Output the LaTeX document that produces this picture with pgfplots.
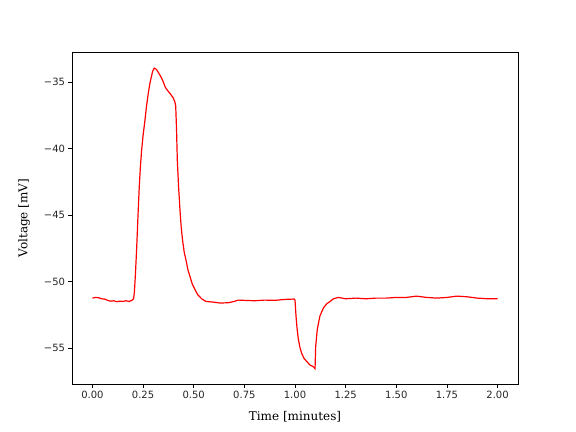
\documentclass[border=0pt]{standalone}
\usepackage{fontspec}
\setmainfont{DejaVu Sans}
\newfontfamily\labelfont{DejaVu Serif}
\usepackage{pgfplots}
\pgfplotsset{compat=1.18}

\pgfplotstableread{
t V
0.000 -51.25
0.015 -51.20
0.030 -51.22
0.045 -51.30
0.060 -51.32
0.075 -51.42
0.090 -51.48
0.105 -51.45
0.120 -51.52
0.135 -51.48
0.150 -51.50
0.165 -51.45
0.180 -51.50
0.195 -51.42
0.203 -51.30
0.207 -50.80
0.212 -49.50
0.218 -47.60
0.225 -45.00
0.231 -42.90
0.237 -41.30
0.243 -40.10
0.250 -39.00
0.259 -37.90
0.267 -36.80
0.276 -35.80
0.285 -35.00
0.297 -34.20
0.305 -33.95
0.312 -34.00
0.318 -34.10
0.326 -34.30
0.334 -34.50
0.341 -34.70
0.350 -35.00
0.360 -35.40
0.374 -35.70
0.385 -35.90
0.399 -36.20
0.407 -36.50
0.411 -36.80
0.415 -38.50
0.419 -40.90
0.425 -42.80
0.432 -44.60
0.438 -45.90
0.445 -46.90
0.453 -47.80
0.462 -48.40
0.471 -49.10
0.481 -49.60
0.493 -50.20
0.506 -50.60
0.520 -51.00
0.539 -51.30
0.560 -51.50
0.595 -51.55
0.630 -51.62
0.670 -51.60
0.700 -51.50
0.720 -51.40
0.750 -51.42
0.800 -51.45
0.850 -51.40
0.900 -51.42
0.950 -51.35
0.995 -51.32
1.000 -51.40
1.005 -52.60
1.010 -53.50
1.016 -54.30
1.025 -55.00
1.033 -55.40
1.045 -55.80
1.057 -56.00
1.075 -56.30
1.090 -56.40
1.099 -56.55
1.100 -56.00
1.102 -54.90
1.110 -53.60
1.123 -52.60
1.140 -52.00
1.155 -51.70
1.173 -51.50
1.190 -51.30
1.214 -51.20
1.250 -51.30
1.300 -51.25
1.350 -51.30
1.400 -51.25
1.450 -51.25
1.500 -51.20
1.550 -51.20
1.600 -51.10
1.650 -51.20
1.700 -51.25
1.750 -51.20
1.800 -51.10
1.850 -51.15
1.900 -51.25
1.950 -51.30
2.000 -51.30
}\voltdata

\begin{document}
\begin{tikzpicture}
\path[use as bounding box] (-72bp,-48bp) rectangle (504bp,384bp);
\begin{axis}[
    at={(0,0)}, anchor=south west,
    scale only axis,
    width=446bp, height=332bp,
    xmin=-0.101, xmax=2.101,
    ymin=-57.71, ymax=-32.74,
    axis line style={line width=0.8bp},
    tick align=outside,
    major tick length=3.5bp,
    every tick/.style={black, line width=0.8bp},
    xtick pos=bottom, ytick pos=left,
    xtick={0,0.25,0.5,0.75,1,1.25,1.5,1.75,2},
    xticklabels={0.00,0.25,0.50,0.75,1.00,1.25,1.50,1.75,2.00},
    ytick={-55,-50,-45,-40,-35},
    yticklabels={−55,−50,−45,−40,−35},
    ticklabel style={font=\fontsize{10bp}{12bp}\selectfont, text=black!85},
    xlabel={Time [minutes]},
    ylabel={Voltage [mV]},
    label style={font=\labelfont\fontsize{12bp}{14bp}\selectfont},
    xlabel style={yshift=-6bp},
    ylabel style={yshift=7bp},
]
\addplot[red, line width=1.2bp] table[x=t, y=V] {\voltdata};
\end{axis}
\end{tikzpicture}
\end{document}
